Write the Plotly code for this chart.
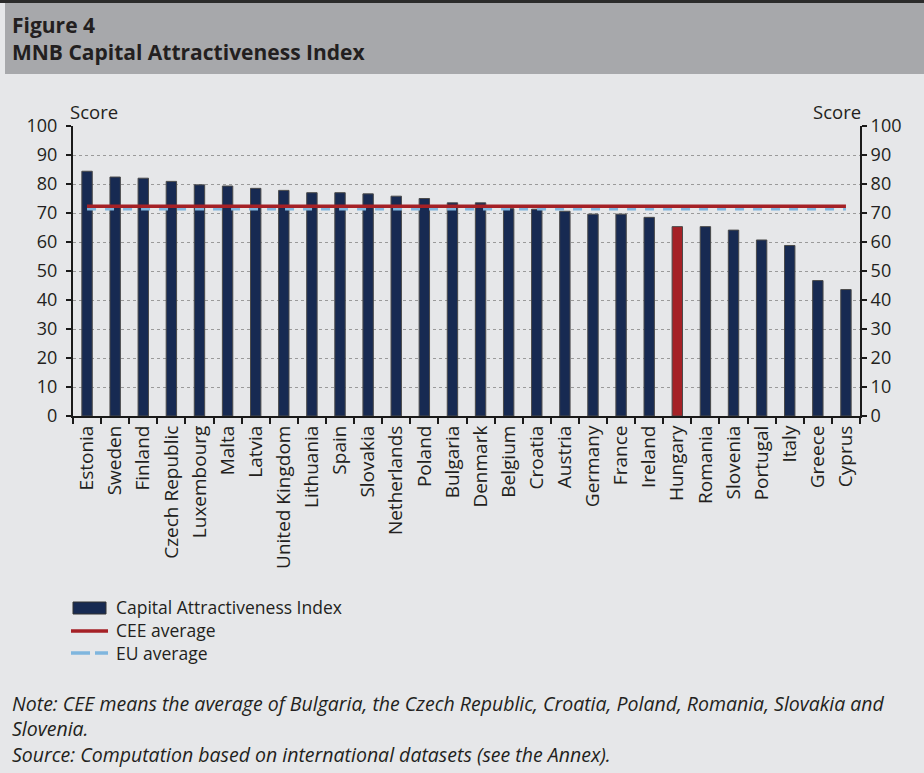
import plotly.graph_objects as go

countries = ["Estonia", "Sweden", "Finland", "Czech Republic", "Luxembourg", "Malta", "Latvia",
             "United Kingdom", "Lithuania", "Spain", "Slovakia", "Netherlands", "Poland", "Bulgaria",
             "Denmark", "Belgium", "Croatia", "Austria", "Germany", "France", "Ireland", "Hungary",
             "Romania", "Slovenia", "Portugal", "Italy", "Greece", "Cyprus"]
index_values = [84.4, 82.4, 82.0, 80.9, 79.7, 79.3, 78.5, 77.8, 77.0, 77.0, 76.6, 75.8, 75.0, 73.5,
                73.5, 71.5, 71.3, 70.6, 69.6, 69.6, 68.5, 65.3, 65.3, 64.1, 60.7, 58.8, 46.7, 43.6]
cee_average = 72.3
eu_average = 71.4
highlight = "Hungary"
legend_labels = ["Capital Attractiveness Index", "CEE average", "EU average"]

W, H = 924, 773
L, R, T, B = 73, 860, 126, 416
pw, ph = R - L, B - T

def px(x):
    return (x - L) / pw

def py(y):
    return (B - y) / ph

font = "Open Sans"
txt = "#231f20"
navy = "#172a52"
red = "#a52126"
blue = "#7fb6de"

colors = [red if c == highlight else navy for c in countries]

fig = go.Figure()
fig.add_trace(go.Bar(x=countries, y=index_values, name=legend_labels[0],
                     marker=dict(color=colors, line=dict(color="#4a4a4a", width=1)),
                     width=0.37, showlegend=False))
fig.add_trace(go.Scatter(x=countries, y=[eu_average] * len(countries), name=legend_labels[2],
                         mode="lines", line=dict(color=blue, width=3, dash="dash"),
                         showlegend=False))
fig.add_trace(go.Scatter(x=countries, y=[cee_average] * len(countries), name=legend_labels[1],
                         mode="lines", line=dict(color=red, width=3.5), showlegend=False))
fig.add_trace(go.Scatter(x=countries, y=[None] * len(countries), yaxis="y2", showlegend=False,
                         mode="lines", hoverinfo="skip"))

axis_common = dict(range=[0, 100], dtick=10, ticks="outside", ticklen=5, tickwidth=2,
                   tickcolor="#1a1a1a", showline=True, linecolor="#1a1a1a", linewidth=2,
                   tickfont=dict(family=font, size=18, color=txt), zeroline=False,
                   automargin=False)

# legend drawn manually (swatches + texts)
legend_shapes = [
    dict(type="rect", xref="paper", yref="paper", x0=px(73), x1=px(106), y0=py(614), y1=py(602),
         fillcolor=navy, line=dict(color="#333333", width=1)),
    dict(type="line", xref="paper", yref="paper", x0=px(71), x1=px(108), y0=py(631), y1=py(631),
         line=dict(color=red, width=3.5)),
    dict(type="line", xref="paper", yref="paper", x0=px(71), x1=px(90), y0=py(653), y1=py(653),
         line=dict(color=blue, width=3.5)),
    dict(type="line", xref="paper", yref="paper", x0=px(95), x1=px(108), y0=py(653), y1=py(653),
         line=dict(color=blue, width=3.5)),
]
legend_ann = [dict(text="<br>".join(legend_labels), xref="paper", yref="paper", x=px(114),
                   y=py(630), xanchor="left", yanchor="middle", align="left", showarrow=False,
                   font=dict(family=font, size=17.5, color=txt))]

note_text = ("<i>Note: CEE means the average of Bulgaria, the Czech Republic, Croatia, Poland, "
             "Romania, Slovakia and<br>Slovenia.<br>"
             "Source: Computation based on international datasets (see the Annex).</i>")

fig.update_layout(
    width=W, height=H,
    margin=dict(l=L, r=W - R, t=T, b=H - B, autoexpand=False),
    paper_bgcolor="#e6e7e9", plot_bgcolor="#e6e7e9",
    showlegend=False,
    xaxis=dict(showline=True, linecolor="#1a1a1a", linewidth=2, ticks="outside", ticklen=6,
               tickwidth=2, tickcolor="#1a1a1a", tickson="boundaries", tickangle=-90,
               dtick=1, tickfont=dict(family=font, size=19, color=txt), showgrid=False,
               automargin=False),
    yaxis=dict(**axis_common, showgrid=True, gridcolor="#9a9a9a", griddash="dot", gridwidth=1,
               ticklabelstandoff=5),
    yaxis2=dict(**axis_common, overlaying="y", side="right", showgrid=False),
    shapes=[
        dict(type="rect", xref="paper", yref="paper", x0=px(5), x1=px(W), y0=py(74), y1=py(3),
             fillcolor="#a7a8ab", line=dict(width=0), layer="below"),
        dict(type="rect", xref="paper", yref="paper", x0=px(0), x1=px(W), y0=py(3), y1=py(0),
             fillcolor="#2b2b2b", line=dict(width=0), layer="below"),
    ] + legend_shapes,
    annotations=[
        dict(text="<b>Figure 4<br>MNB Capital Attractiveness Index</b>", xref="paper",
             yref="paper", x=px(10), y=py(38), xanchor="left", yanchor="middle", align="left",
             showarrow=False, font=dict(family=font, size=21, color=txt)),
        dict(text="Score", xref="paper", yref="paper", x=px(94), y=py(111),
             xanchor="center", yanchor="middle", showarrow=False,
             font=dict(family=font, size=18.5, color=txt)),
        dict(text="Score", xref="paper", yref="paper", x=px(837), y=py(111),
             xanchor="center", yanchor="middle", showarrow=False,
             font=dict(family=font, size=18.5, color=txt)),
        dict(text=note_text, xref="paper", yref="paper", x=px(10), y=py(728.5), xanchor="left",
             yanchor="middle", align="left", showarrow=False,
             font=dict(family=font, size=19.5, color=txt)),
    ] + legend_ann,
)

fig.write_html("out.html")
